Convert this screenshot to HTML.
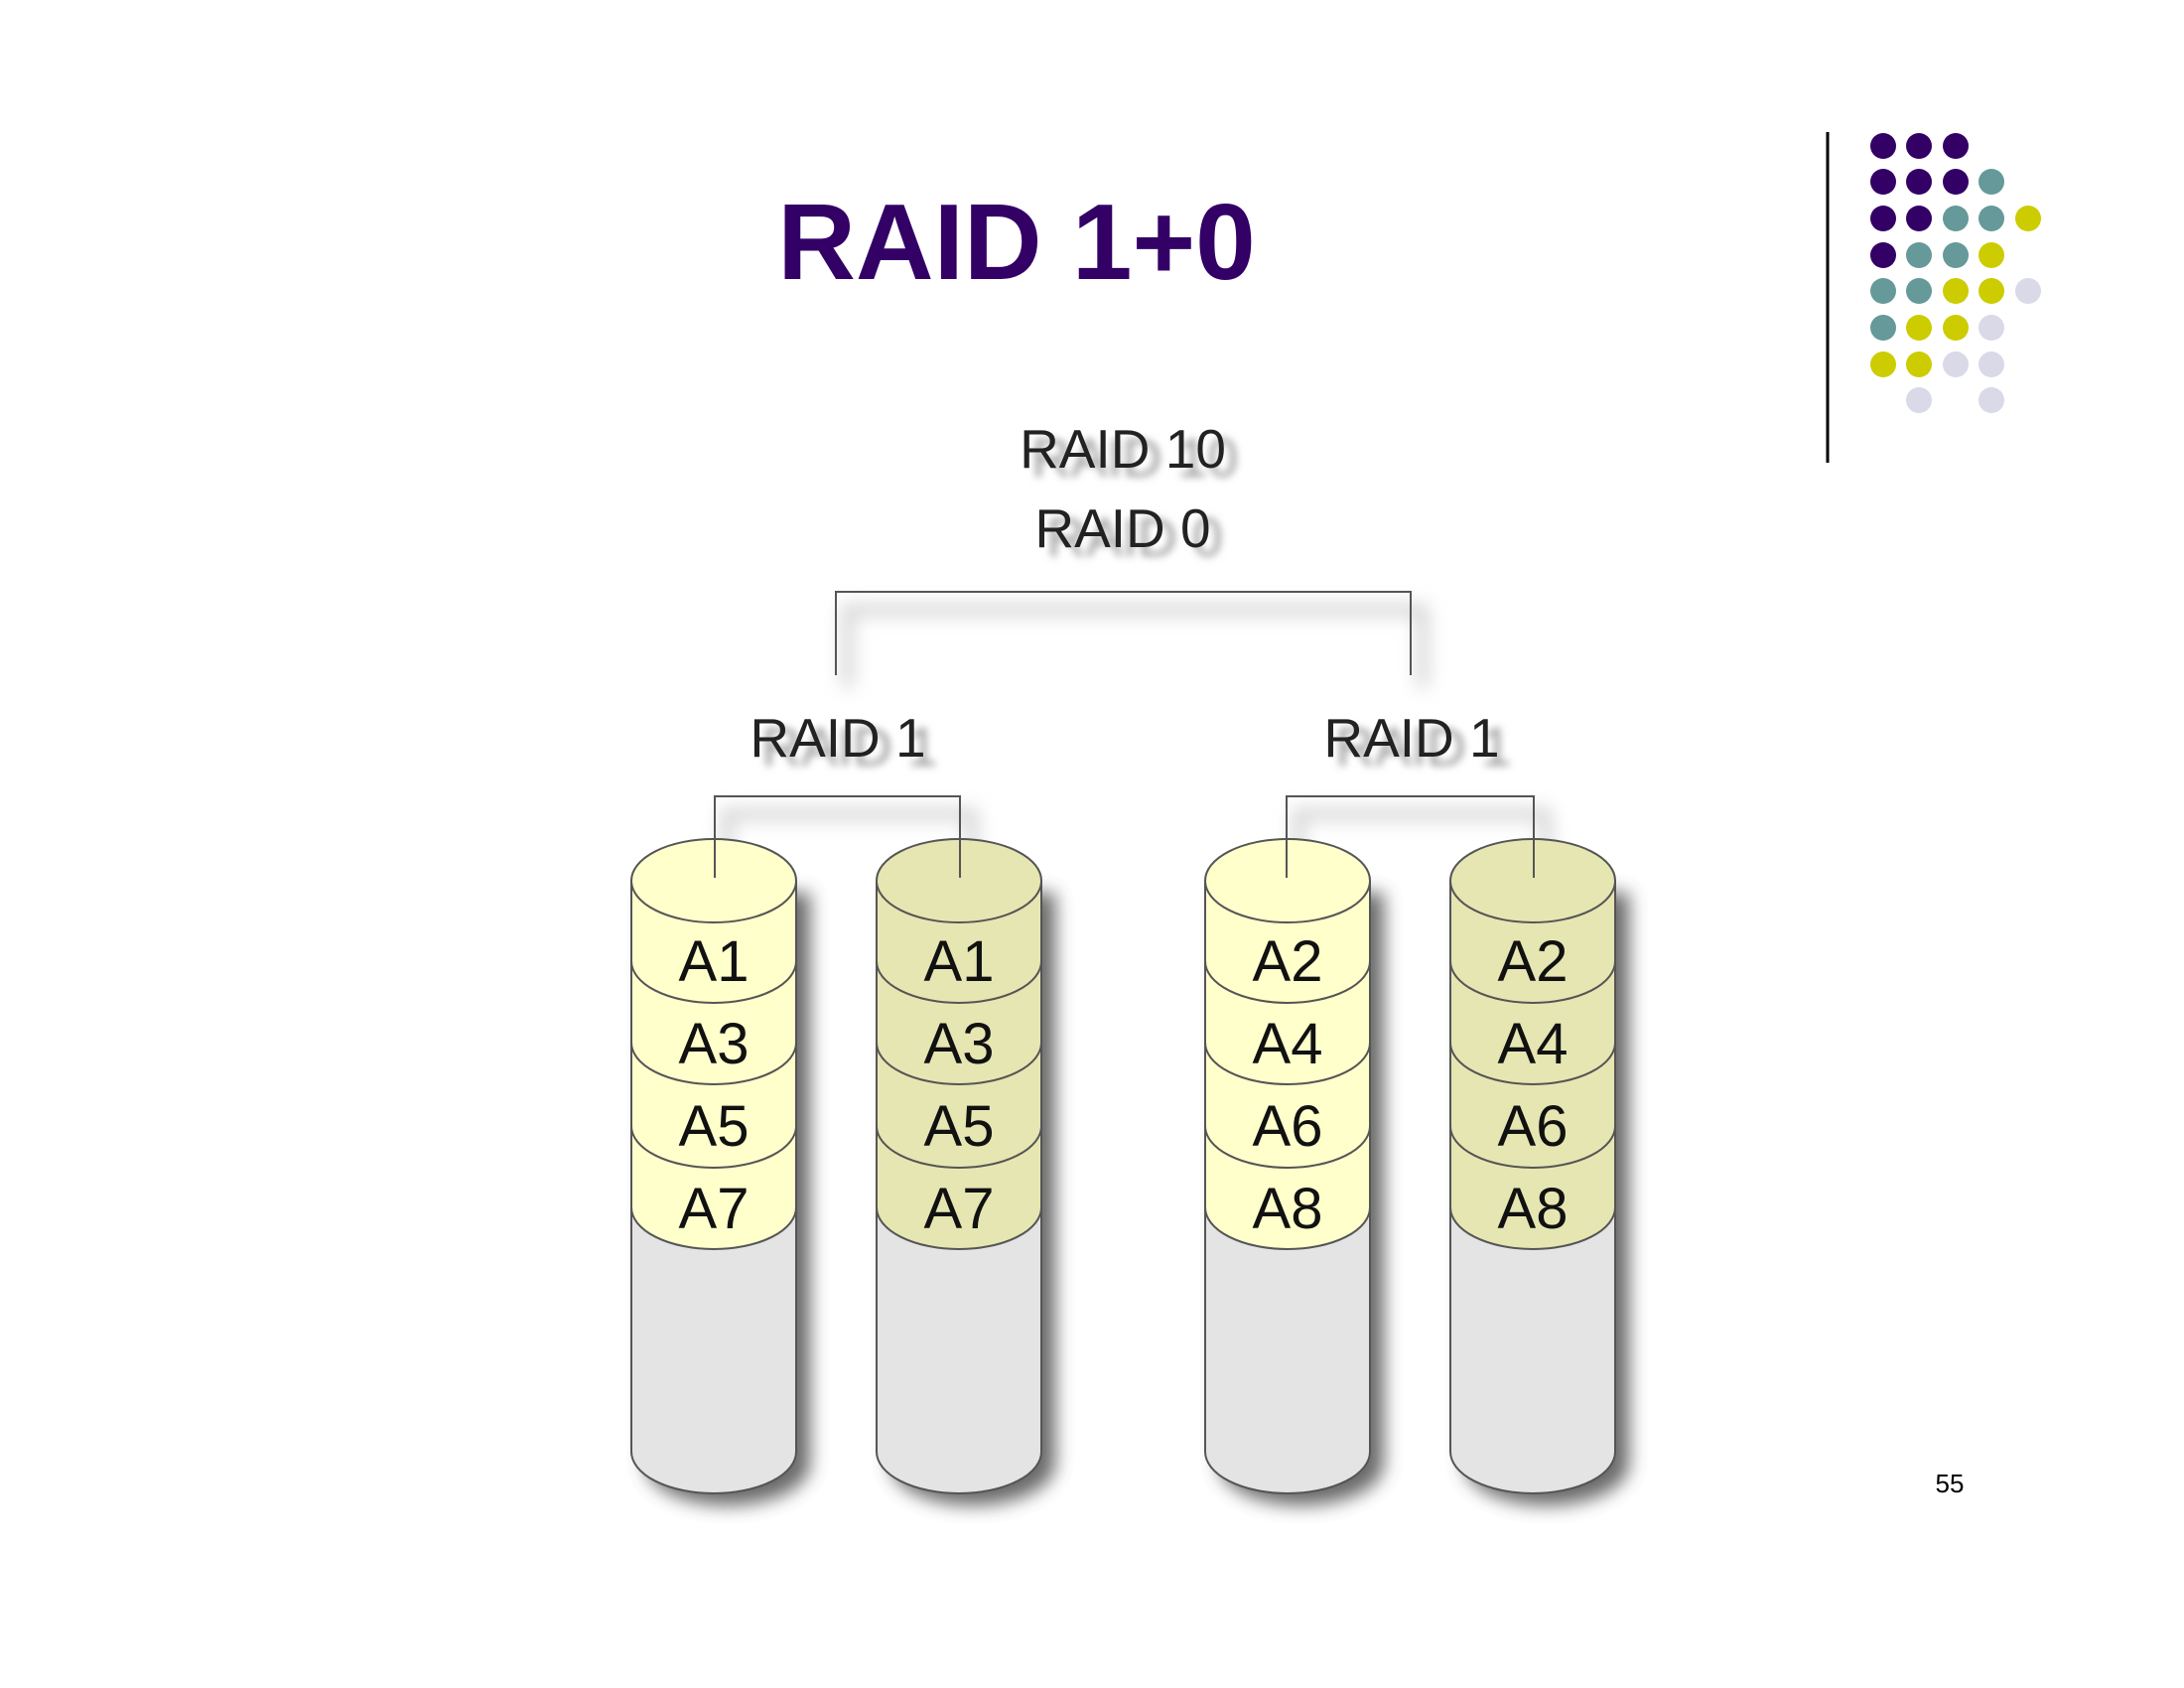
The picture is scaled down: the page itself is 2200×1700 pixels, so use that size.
<!DOCTYPE html>
<html><head><meta charset="utf-8"><style>
html,body{margin:0;padding:0;background:#fff;}
body{width:2200px;height:1700px;position:relative;overflow:hidden;font-family:"Liberation Sans",sans-serif;}
</style></head><body>
<svg width="2200" height="1700" xmlns="http://www.w3.org/2000/svg" style="position:absolute;left:0;top:0" font-family="Liberation Sans, sans-serif">
<defs>
<filter id="sh" x="-30%" y="-30%" width="160%" height="160%"><feGaussianBlur stdDeviation="9"/></filter>
<filter id="ts" x="-20%" y="-50%" width="140%" height="200%"><feGaussianBlur stdDeviation="4"/></filter>
</defs>
<text x="1024" y="281" text-anchor="middle" font-weight="bold" font-size="109" fill="#330066">RAID 1+0</text>
<line x1="1841" y1="133" x2="1841" y2="466" stroke="#000" stroke-width="3"/>
<g>
<circle cx="1897" cy="147" r="13" fill="#330066"/><circle cx="1933" cy="147" r="13" fill="#330066"/><circle cx="1970" cy="147" r="13" fill="#330066"/>
<circle cx="1897" cy="183" r="13" fill="#330066"/><circle cx="1933" cy="183" r="13" fill="#330066"/><circle cx="1970" cy="183" r="13" fill="#330066"/><circle cx="2006" cy="183" r="13" fill="#669999"/>
<circle cx="1897" cy="220" r="13" fill="#330066"/><circle cx="1933" cy="220" r="13" fill="#330066"/><circle cx="1970" cy="220" r="13" fill="#669999"/><circle cx="2006" cy="220" r="13" fill="#669999"/><circle cx="2043" cy="220" r="13" fill="#cccc00"/>
<circle cx="1897" cy="257" r="13" fill="#330066"/><circle cx="1933" cy="257" r="13" fill="#669999"/><circle cx="1970" cy="257" r="13" fill="#669999"/><circle cx="2006" cy="257" r="13" fill="#cccc00"/>
<circle cx="1897" cy="293" r="13" fill="#669999"/><circle cx="1933" cy="293" r="13" fill="#669999"/><circle cx="1970" cy="293" r="13" fill="#cccc00"/><circle cx="2006" cy="293" r="13" fill="#cccc00"/><circle cx="2043" cy="293" r="13" fill="#d9d9e8"/>
<circle cx="1897" cy="330" r="13" fill="#669999"/><circle cx="1933" cy="330" r="13" fill="#cccc00"/><circle cx="1970" cy="330" r="13" fill="#cccc00"/><circle cx="2006" cy="330" r="13" fill="#d9d9e8"/>
<circle cx="1897" cy="367" r="13" fill="#cccc00"/><circle cx="1933" cy="367" r="13" fill="#cccc00"/><circle cx="1970" cy="367" r="13" fill="#d9d9e8"/><circle cx="2006" cy="367" r="13" fill="#d9d9e8"/>
<circle cx="1933" cy="403" r="13" fill="#d9d9e8"/><circle cx="2006" cy="403" r="13" fill="#d9d9e8"/>
</g>
<text x="1964" y="1503" text-anchor="middle" font-size="26" fill="#000">55</text>

<g font-size="55" fill="#999" filter="url(#ts)" text-anchor="middle">
<text x="1143" y="480">RAID 10</text><text x="1143" y="560">RAID 0</text>
<text x="856" y="771">RAID 1</text><text x="1434" y="771">RAID 1</text>
</g>
<g font-size="55" fill="#222" text-anchor="middle">
<text x="1131" y="471">RAID 10</text><text x="1131" y="551">RAID 0</text>
<text x="844" y="762">RAID 1</text><text x="1422" y="762">RAID 1</text>
</g>

<g fill="none" stroke="#ccc" stroke-width="10" filter="url(#sh)">
<polyline points="854,692 854,614 1433,614 1433,692"/>
<polyline points="732,895 732,820 979,820 979,895"/>
<polyline points="1308,895 1308,820 1557,820 1557,895"/>
</g>
<polyline points="842,680 842,596 1421,596 1421,680" fill="none" stroke="#555" stroke-width="2"/>

<!-- cylinder 1 -->
<g transform="translate(719,0)">
<path d="M-69,899 L97,899 L97,1474 A83,42 0 0 1 -69,1474 Z" fill="#444" opacity="0.8" filter="url(#sh)"/>
<path d="M-83,887 L-83,1462 A83,42 0 0 0 83,1462 L83,887 Z" fill="#e4e4e4" stroke="#555" stroke-width="2"/>
<path d="M-83,887 L-83,1216 A83,42 0 0 0 83,1216 L83,887 Z" fill="#ffffcc" stroke="#555" stroke-width="2"/>
<ellipse cx="0" cy="887" rx="83" ry="42" fill="#ffffcc" stroke="#555" stroke-width="2"/>
<path d="M-83,968 A83,42 0 0 0 83,968 M-83,1050 A83,42 0 0 0 83,1050 M-83,1134 A83,42 0 0 0 83,1134" fill="none" stroke="#555" stroke-width="2"/>
<g font-size="58" fill="#111" text-anchor="middle"><text x="0" y="988">A1</text><text x="0" y="1071">A3</text><text x="0" y="1154">A5</text><text x="0" y="1237">A7</text></g>
</g>
<!-- cylinder 2 -->
<g transform="translate(966,0)">
<path d="M-69,899 L97,899 L97,1474 A83,42 0 0 1 -69,1474 Z" fill="#444" opacity="0.8" filter="url(#sh)"/>
<path d="M-83,887 L-83,1462 A83,42 0 0 0 83,1462 L83,887 Z" fill="#e4e4e4" stroke="#555" stroke-width="2"/>
<path d="M-83,887 L-83,1216 A83,42 0 0 0 83,1216 L83,887 Z" fill="#e6e6b3" stroke="#555" stroke-width="2"/>
<ellipse cx="0" cy="887" rx="83" ry="42" fill="#e6e6b3" stroke="#555" stroke-width="2"/>
<path d="M-83,968 A83,42 0 0 0 83,968 M-83,1050 A83,42 0 0 0 83,1050 M-83,1134 A83,42 0 0 0 83,1134" fill="none" stroke="#555" stroke-width="2"/>
<g font-size="58" fill="#111" text-anchor="middle"><text x="0" y="988">A1</text><text x="0" y="1071">A3</text><text x="0" y="1154">A5</text><text x="0" y="1237">A7</text></g>
</g>
<!-- cylinder 3 -->
<g transform="translate(1297,0)">
<path d="M-69,899 L97,899 L97,1474 A83,42 0 0 1 -69,1474 Z" fill="#444" opacity="0.8" filter="url(#sh)"/>
<path d="M-83,887 L-83,1462 A83,42 0 0 0 83,1462 L83,887 Z" fill="#e4e4e4" stroke="#555" stroke-width="2"/>
<path d="M-83,887 L-83,1216 A83,42 0 0 0 83,1216 L83,887 Z" fill="#ffffcc" stroke="#555" stroke-width="2"/>
<ellipse cx="0" cy="887" rx="83" ry="42" fill="#ffffcc" stroke="#555" stroke-width="2"/>
<path d="M-83,968 A83,42 0 0 0 83,968 M-83,1050 A83,42 0 0 0 83,1050 M-83,1134 A83,42 0 0 0 83,1134" fill="none" stroke="#555" stroke-width="2"/>
<g font-size="58" fill="#111" text-anchor="middle"><text x="0" y="988">A2</text><text x="0" y="1071">A4</text><text x="0" y="1154">A6</text><text x="0" y="1237">A8</text></g>
</g>
<!-- cylinder 4 -->
<g transform="translate(1544,0)">
<path d="M-69,899 L97,899 L97,1474 A83,42 0 0 1 -69,1474 Z" fill="#444" opacity="0.8" filter="url(#sh)"/>
<path d="M-83,887 L-83,1462 A83,42 0 0 0 83,1462 L83,887 Z" fill="#e4e4e4" stroke="#555" stroke-width="2"/>
<path d="M-83,887 L-83,1216 A83,42 0 0 0 83,1216 L83,887 Z" fill="#e6e6b3" stroke="#555" stroke-width="2"/>
<ellipse cx="0" cy="887" rx="83" ry="42" fill="#e6e6b3" stroke="#555" stroke-width="2"/>
<path d="M-83,968 A83,42 0 0 0 83,968 M-83,1050 A83,42 0 0 0 83,1050 M-83,1134 A83,42 0 0 0 83,1134" fill="none" stroke="#555" stroke-width="2"/>
<g font-size="58" fill="#111" text-anchor="middle"><text x="0" y="988">A2</text><text x="0" y="1071">A4</text><text x="0" y="1154">A6</text><text x="0" y="1237">A8</text></g>
</g>

<polyline points="720,884 720,802 967,802 967,884" fill="none" stroke="#555" stroke-width="2"/>
<polyline points="1296,884 1296,802 1545,802 1545,884" fill="none" stroke="#555" stroke-width="2"/>
</svg>
</body></html>
